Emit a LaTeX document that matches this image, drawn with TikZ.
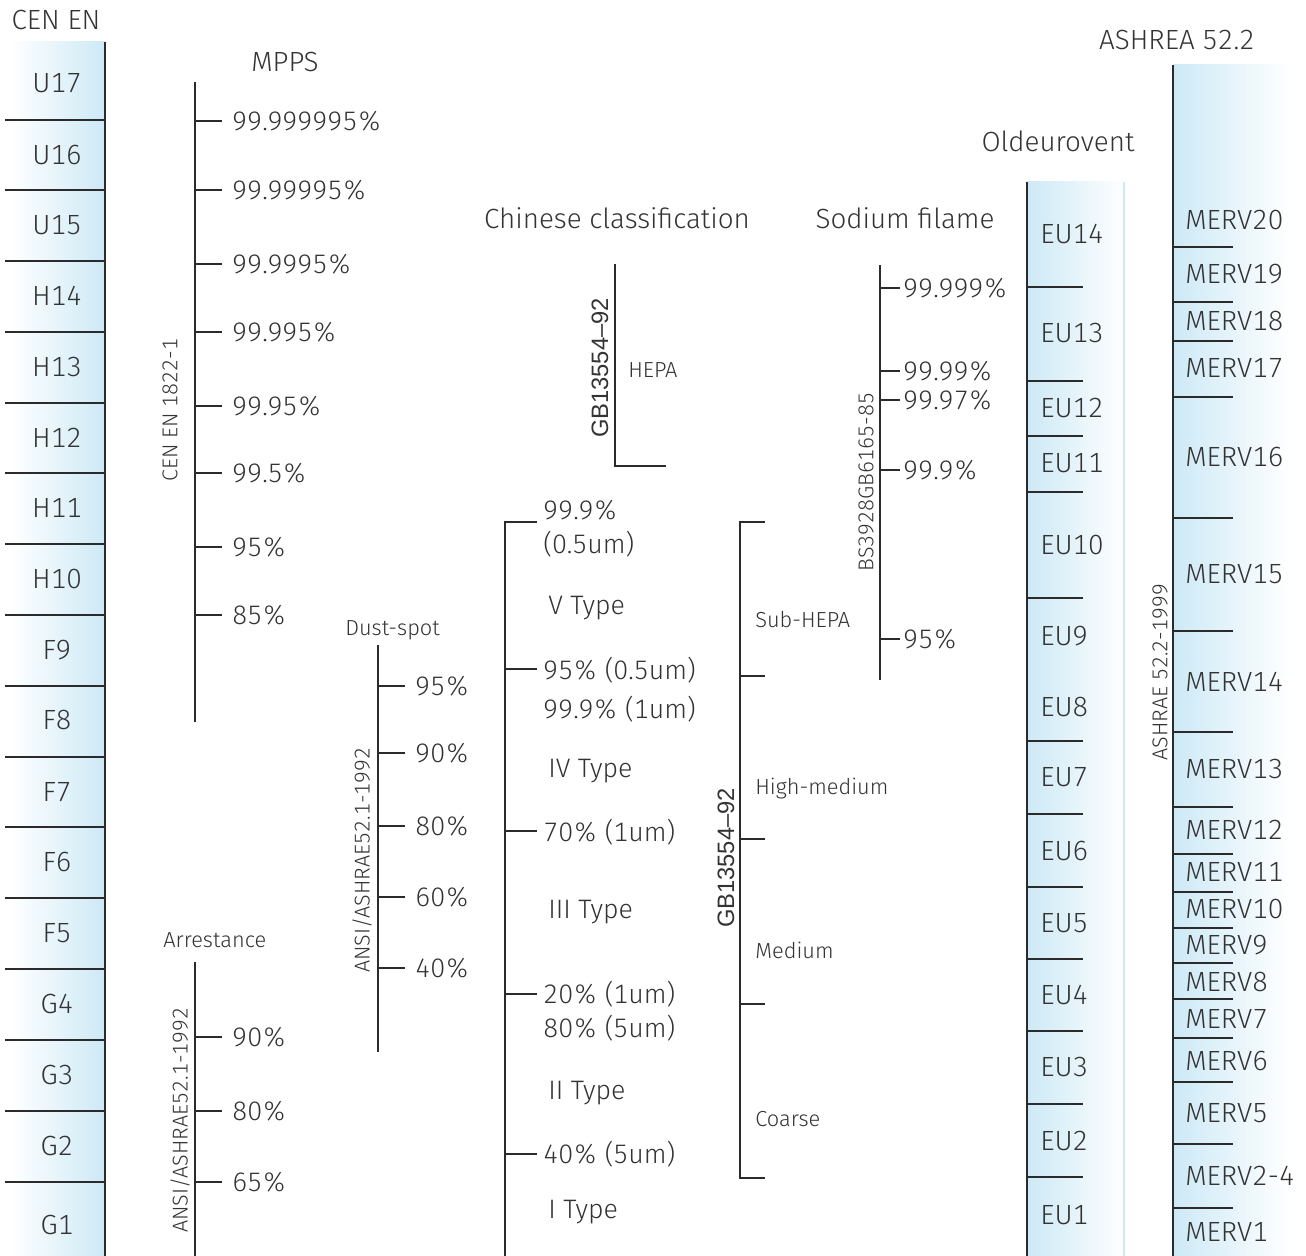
\documentclass[tikz,border=0pt]{standalone}
\usepackage{fontspec}
\setmainfont{Fira Sans Light}[Numbers=Monospaced]
\newfontfamily\gbfont{Liberation Sans}
\usepackage{tikz}
\usetikzlibrary{positioning}
\definecolor{ink}{HTML}{333333}
\definecolor{rule}{HTML}{2B2B2B}
\definecolor{iceblue}{HTML}{CDE9F6}
\tikzset{
  gradelabel/.style={
    font=\fontsize{15.8}{18}\selectfont, text=ink, inner sep=0pt
  },
  valuelabel/.style={
    font=\fontsize{15.2}{17}\selectfont, text=ink, anchor=west, inner sep=0pt
  },
  smalllabel/.style={
    font=\fontsize{12.4}{14}\selectfont, text=ink, anchor=west, inner sep=0pt
  },
  stdlabel/.style={
    font=\fontsize{12.2}{14}\selectfont, text=ink, rotate=90, inner sep=0pt
  },
  gblabel/.style={
    font=\gbfont\fontsize{13.5}{15}\selectfont, text=ink, rotate=90, inner sep=0pt
  },
  scaleline/.style={draw=rule, line width=0.8pt},
}

\begin{document}
\begin{tikzpicture}[x=0.02cm, y=-0.02cm]
  \useasboundingbox (0,0) rectangle (1306,1256);

  % CEN EN column
  \fill[left color=white, right color=iceblue] (10,42) rectangle (105,1256);
  \draw[scaleline] (105,42) -- (105,1256);
  \node[gradelabel] (cen) at (56,20) {CEN EN};
  \foreach \y in {120,190,261,332,403,473,544,615,686,757,827,898,969,1040,1111,1182}
    \draw[scaleline] (5,\y) -- (105,\y);
  \foreach \t/\y [count=\i] in {U17/83,U16/155,U15/225,H14/296,H13/367,H12/438,
      H11/508,H10/579,F9/650,F8/720,F7/792,F6/862,F5/933,G4/1004,G3/1075,G2/1146,G1/1225}
    \node[gradelabel] (cen\i) at (57,\y) {\t};

  % MPPS
  \node[gradelabel] (mpps) at (285,62) {MPPS};
  \draw[scaleline] (195,82) -- (195,722);
  \foreach \v/\y [count=\i] in {99.999995\%/121,99.99995\%/190,99.9995\%/264,
      99.995\%/332,99.95\%/406,99.5\%/473,95\%/547,85\%/615} {
    \draw[scaleline] (195,\y) -- (222,\y);
    \node[valuelabel] (mpps\i) at (232,\y) {\v};
  }
  \node[stdlabel] (en1822) at (170,410) {CEN EN 1822-1};

  % Arrestance
  \node[smalllabel] (arrest) at (163,940) {Arrestance};
  \draw[scaleline] (195,962) -- (195,1256);
  \foreach \v/\y [count=\i] in {90\%/1037,80\%/1111,65\%/1182} {
    \draw[scaleline] (195,\y) -- (222,\y);
    \node[valuelabel] (arrest\i) at (232,\y) {\v};
  }
  \node[stdlabel] (ansia) at (180,1120) {ANSI/ASHRAE52.1-1992};

  % Dust-spot
  \node[smalllabel] (dust) at (345,630) {Dust-spot};
  \draw[scaleline] (378,645) -- (378,1052);
  \foreach \v/\y [count=\i] in {95\%/686,90\%/753,80\%/826,60\%/897,40\%/968} {
    \draw[scaleline] (378,\y) -- (405,\y);
    \node[valuelabel] (dust\i) at (415,\y) {\v};
  }
  \node[stdlabel] (ansib) at (362,860) {ANSI/ASHRAE52.1-1992};

  % Chinese classification
  \node[gradelabel] (chinese) at (617,218) {Chinese classification};
  \draw[scaleline] (615,264) -- (615,466) -- (666,466);
  \node[gblabel] (gbhepa) at (600,368) {GB13554–92};
  \node[smalllabel] (hepa) at (628,370) {HEPA};

  \draw[scaleline] (505,1256) -- (505,522) -- (537,522);
  \foreach \y in {669,831,994,1154}
    \draw[scaleline] (505,\y) -- (537,\y);
  \foreach \v/\y [count=\i] in {99.9\%/510,(0.5um)/544,95\% (0.5um)/670,
      99.9\% (1um)/709,70\% (1um)/832,20\% (1um)/994,80\% (5um)/1028,40\% (5um)/1154}
    \node[valuelabel] (cnval\i) at (543,\y) {\v};
  \foreach \v/\y [count=\i] in {V Type/608,IV Type/771,III Type/912,II Type/1093,I Type/1212}
    \node[valuelabel] (cntype\i) at (548,\y) {\v};

  \draw[scaleline] (765,522) -- (740,522) -- (740,1178) -- (765,1178);
  \foreach \y in {676,839,1004}
    \draw[scaleline] (740,\y) -- (765,\y);
  \foreach \v/\y [count=\i] in {Sub-HEPA/620,High-medium/789,Medium/950,Coarse/1119}
    \node[smalllabel] (gbcls\i) at (755,\y) {\v};
  \node[gblabel] (gbgen) at (726,858) {GB13554–92};

  % Sodium filame
  \node[gradelabel] (sodium) at (905,218) {Sodium filame};
  \draw[scaleline] (880,265) -- (880,680);
  \foreach \v/\y [count=\i] in {99.999\%/288,99.99\%/371,99.97\%/400,99.9\%/470,95\%/639} {
    \draw[scaleline] (880,\y) -- (900,\y);
    \node[valuelabel] (sodium\i) at (903,\y) {\v};
  }
  \node[stdlabel] (bs3928) at (866,482) {BS3928GB6165-85};

  % Oldeurovent
  \node[gradelabel] (eurovent) at (1058,141) {Oldeurovent};
  \fill[left color=iceblue, right color=white] (1027,182) rectangle (1125,1256);
  \draw[iceblue, line width=0.8pt] (1124,182) -- (1124,1256);
  \draw[scaleline] (1027,182) -- (1027,1256);
  \foreach \y in {287,381,436,492,598,741,814,887,959,1031,1104,1177}
    \draw[scaleline] (1027,\y) -- (1083,\y);
  \foreach \t/\y [count=\i] in {EU14/234,EU13/333,EU12/408,EU11/463,EU10/545,EU9/636,EU8/707,
      EU7/777,EU6/851,EU5/923,EU4/995,EU3/1067,EU2/1141,EU1/1215}
    \node[gradelabel, anchor=west] (eu\i) at (1040,\y) {\t};

  % ASHREA 52.2
  \node[gradelabel] (ashrea) at (1177,40) {ASHREA 52.2};
  \fill[left color=iceblue, right color=white] (1173,65) rectangle (1290,1256);
  \draw[scaleline] (1173,65) -- (1173,1256);
  \foreach \y in {247,302,341,397,518,631,732,807,854,892,928,963,999,1038,1082,1144,1208}
    \draw[scaleline] (1173,\y) -- (1233,\y);
  \foreach \t/\y [count=\i] in {MERV20/220,MERV19/274,MERV18/321,MERV17/368,MERV16/457,
      MERV15/574,MERV14/682,MERV13/769,MERV12/830,MERV11/872,MERV10/909,MERV9/945,
      MERV8/982,MERV7/1019,MERV6/1061,MERV5/1113,MERV2-4/1176,MERV1/1232}
    \node[gradelabel, anchor=west] (merv\i) at (1185,\y) {\t};
  \node[stdlabel] (ashrae522) at (1160,672) {ASHRAE 52.2-1999};
\end{tikzpicture}
\end{document}
